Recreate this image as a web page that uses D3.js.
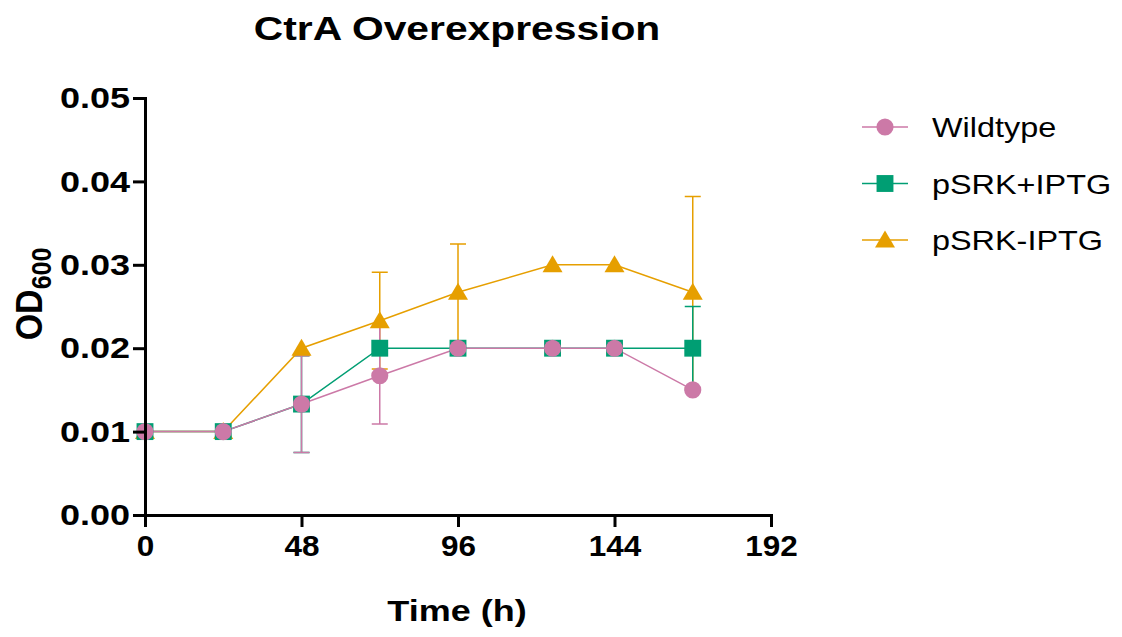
<!DOCTYPE html>
<html>
<head>
<meta charset="utf-8">
<script src="https://cdn.jsdelivr.net/npm/d3@7"></script>
<style>
  body { margin: 0; background: #fff; }
  text { font-family: "Liberation Sans", Arial, sans-serif; fill: #000; }
</style>
</head>
<body>
<div id="svg"></div>
<script>
const times = [0, 24, 48, 72, 96, 125, 144, 168]

const seriesNames = ['Wildtype', 'pSRK+IPTG', 'pSRK-IPTG']
const wildtypeMean = [0.01, 0.01, 0.0133, 0.0167, 0.02, 0.02, 0.02, 0.015]
const wildtypeSD = [0, 0, 0.0058, 0.0058, 0, 0, 0, 0]
const plusIptgMean = [0.01, 0.01, 0.0133, 0.02, 0.02, 0.02, 0.02, 0.02]
const plusIptgSD = [0, 0, 0.0058, 0, 0, 0, 0, 0.005]
const minusIptgMean = [0.01, 0.01, 0.02, 0.0233, 0.0267, 0.03, 0.03, 0.0267]
const minusIptgSD = [0, 0, 0, 0.0058, 0.0058, 0, 0, 0.0115]

const xTicks = [0, 48, 96, 144, 192]
const yTicks = [0, 0.01, 0.02, 0.03, 0.04, 0.05]

window.onload = function() {
  const width = 1122
  const height = 637
  const sx = 1.2   // the picture is stretched a bit sideways

  const svg = d3.select('#svg')
    .append('svg')
      .attr('width', width)
      .attr('height', height)

  const x = d3.scaleLinear().domain([0, 192]).range([145, 771])
  const y = d3.scaleLinear().domain([0, 0.05]).range([515, 98])

  const series = [
    { name: seriesNames[0], mean: wildtypeMean, sd: wildtypeSD, color: '#CC79A7', shape: 'circle' },
    { name: seriesNames[1], mean: plusIptgMean, sd: plusIptgSD, color: '#009E73', shape: 'square' },
    { name: seriesNames[2], mean: minusIptgMean, sd: minusIptgSD, color: '#E69F00', shape: 'triangle' }
  ]
  series.forEach(s => {
    s.points = times.map((t, i) => ({ t: t, v: s.mean[i], e: s.sd[i] }))
  })

  const markerPath = {
    circle: d3.symbol().type(d3.symbolCircle).size(230)(),
    square: d3.symbol().type(d3.symbolSquare).size(285)(),
    triangle: 'M0,-9.5L10,7.5L-10,7.5Z'
  }

  // error bars: orange underneath, pink on top
  const drawOrder = [series[2], series[1], series[0]]
  const capW = 8
  drawOrder.forEach(s => {
    const g = svg.append('g')
      .attr('stroke', s.color)
      .attr('stroke-width', 1.5)
      .attr('fill', 'none')
    const pts = s.points.filter(p => p.e > 0)
    g.selectAll('path')
      .data(pts)
      .enter().append('path')
        .attr('d', p => {
          const cx = x(p.t), top = y(p.v + p.e), bot = y(p.v - p.e)
          return 'M' + cx + ',' + top + 'V' + bot +
                 'M' + (cx - capW) + ',' + top + 'H' + (cx + capW) +
                 'M' + (cx - capW) + ',' + bot + 'H' + (cx + capW)
        })
  })

  // connecting lines
  const line = d3.line().x(p => x(p.t)).y(p => y(p.v))
  drawOrder.forEach(s => {
    svg.append('path')
      .datum(s.points)
      .attr('fill', 'none')
      .attr('stroke', s.color)
      .attr('stroke-width', 1.5)
      .attr('d', line)
  })

  // markers
  drawOrder.forEach(s => {
    svg.append('g').selectAll('path')
      .data(s.points)
      .enter().append('path')
        .attr('transform', p => 'translate(' + x(p.t) + ',' + y(p.v) + ')')
        .attr('d', markerPath[s.shape])
        .attr('fill', s.color)
  })

  // axes
  const yAxis = d3.axisLeft(y)
    .tickValues(yTicks)
    .tickFormat(d3.format('.2f'))
    .tickSize(12)
    .tickSizeOuter(0)
    .tickPadding(3)
  const xAxis = d3.axisBottom(x)
    .tickValues(xTicks)
    .tickFormat(d3.format('d'))
    .tickSize(12)
    .tickSizeOuter(0)
    .tickPadding(8)

  const gy = svg.append('g')
    .attr('transform', 'translate(' + x(0) + ',0)')
    .call(yAxis)
  const gx = svg.append('g')
    .attr('transform', 'translate(0,' + y(0) + ')')
    .call(xAxis)

  ;[gx, gy].forEach(g => {
    g.select('.domain').attr('stroke-width', 3).attr('stroke-linecap', 'square')
    g.selectAll('.tick line').attr('stroke-width', 3)
    g.selectAll('.tick text')
      .attr('font-family', '"Liberation Sans", Arial, sans-serif')
      .attr('font-size', 30)
      .attr('font-weight', 'bold')
      .attr('fill', '#000')
  })
  gy.selectAll('.tick text').each(function() {
    const t = d3.select(this)
    const tx = +t.attr('x')
    t.attr('x', 0).attr('transform', 'translate(' + tx + ',0) scale(' + sx + ',1)')
  })
  gx.selectAll('.tick text').attr('transform', 'scale(1.05,1)')

  // title
  svg.append('text')
    .attr('transform', 'translate(457,40) scale(' + sx + ',1)')
    .attr('text-anchor', 'middle')
    .attr('font-size', 34)
    .attr('font-weight', 'bold')
    .text('CtrA Overexpression')

  // x axis title
  svg.append('text')
    .attr('transform', 'translate(457,621) scale(' + sx + ',1)')
    .attr('text-anchor', 'middle')
    .attr('font-size', 30)
    .attr('font-weight', 'bold')
    .text('Time (h)')

  // y axis title with subscript
  const yTitle = svg.append('text')
    .attr('transform', 'translate(42,294) rotate(-90) scale(1,1.1)')
    .attr('text-anchor', 'middle')
    .attr('font-size', 34)
    .attr('font-weight', 'bold')
  yTitle.append('tspan').text('OD')
  yTitle.append('tspan')
    .attr('font-size', 25)
    .attr('dy', 8)
    .text('600')

  // legend
  const legend = svg.append('g')
  series.forEach((s, i) => {
    const ly = 127 + i * 56.5
    legend.append('line')
      .attr('x1', 862).attr('x2', 908)
      .attr('y1', ly).attr('y2', ly)
      .attr('stroke', s.color)
      .attr('stroke-width', 1.5)
    legend.append('path')
      .attr('transform', 'translate(885,' + ly + ')')
      .attr('d', markerPath[s.shape])
      .attr('fill', s.color)
    legend.append('text')
      .attr('transform', 'translate(932,' + (ly + 10) + ') scale(' + sx + ',1)')
      .attr('font-size', 27)
      .text(s.name)
  })
}
</script>
</body>
</html>
